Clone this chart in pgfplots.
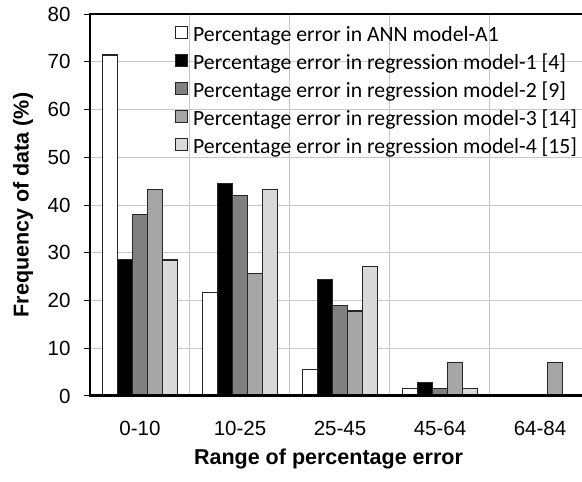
\documentclass[border=0pt]{standalone}
\usepackage{pgfplots}
\pgfplotsset{compat=1.18}
\usepackage{fontspec}
\setmainfont{Liberation Sans}
\newfontfamily\calfont{Carlito}
\definecolor{dg}{HTML}{808080}
\definecolor{mg}{HTML}{A6A6A6}
\definecolor{lg}{HTML}{D9D9D9}
\definecolor{edge}{HTML}{262626}
\newcommand{\ls}{\rule[-7pt]{0pt}{28pt}}
\begin{document}
\begin{tikzpicture}
\begin{axis}[
  scale only axis,
  width=500pt, height=382pt,
  xmin=-0.5, xmax=4.5,
  ymin=0, ymax=80,
  ytick={0,10,...,80},
  xtick={0,1,2,3,4},
  xticklabels={0-10,10-25,25-45,45-64,64-84},
  minor xtick={0.5,1.5,2.5,3.5,4.5},
  xminorgrids=true, ymajorgrids=true,
  grid style={line width=1pt, color=black!22},
  minor grid style={line width=1pt, color=black!22},
  major x tick style={draw=none},
  minor x tick style={draw=none},
  y tick style={line width=1pt, black},
  tick align=outside,
  major tick length=6pt,
  ybar=0pt,
  bar width=15pt,
  axis line style={line width=1.5pt, black},
  /pgf/number format/assume math mode=true,
  tick label style={font=\fontsize{20.5}{24}\selectfont},
  xticklabel style={anchor=base, yshift=-34pt},
  yticklabel style={anchor=east, xshift=-10pt},
  xlabel={\bfseries Range of percentage error},
  ylabel={\bfseries Frequency of data (\%)},
  label style={font=\fontsize{21.5}{24}\selectfont},
  xlabel style={at={(axis description cs:0.477,-0.1806)}, anchor=base},
  ylabel style={at={(axis description cs:-0.134,0.5)}, anchor=center},
  legend style={draw=none, fill=none, at={(axis description cs:0.164,0.995)}, anchor=north west,
    font=\calfont\fontsize{21.7}{24}\selectfont, row sep=0pt,
    nodes={inner sep=0pt},
    /tikz/every odd column/.append style={column sep=5pt}},
  legend cell align=left,
  legend image code/.code={\path[draw=none, fill=none] (0pt,-14pt) rectangle (12pt,14pt);
    \draw[#1, line width=1pt] (0pt,-6pt) rectangle (12pt,6pt);},
  every axis plot/.append style={draw=edge, line width=1.2pt},
]
\addplot[fill=white] coordinates {(0,71.4) (1,21.7) (2,5.6) (3,1.6) (4,0)};
\addplot[fill=black] coordinates {(0,28.6) (1,44.5) (2,24.4) (3,2.8) (4,0)};
\addplot[fill=dg] coordinates {(0,38.0) (1,42.0) (2,18.9) (3,1.5) (4,0)};
\addplot[fill=mg] coordinates {(0,43.3) (1,25.7) (2,17.8) (3,7.0) (4,7.0)};
\addplot[fill=lg] coordinates {(0,28.5) (1,43.3) (2,27.2) (3,1.6) (4,0)};
\legend{\ls Percentage error in ANN model-A1,
\ls Percentage error in regression model-1 [4],
\ls Percentage error in regression model-2 [9],
\ls Percentage error in regression model-3 [14],
\ls Percentage error in regression model-4 [15]}
\coordinate (O) at (rel axis cs:0,0);
\draw[line width=3pt, black] (rel axis cs:0,0) -- (rel axis cs:1,0);
\end{axis}
\pgfresetboundingbox
\path[use as bounding box] (O) ++(-90pt,-86pt) rectangle ++(582pt,482pt);
\end{tikzpicture}
\end{document}
